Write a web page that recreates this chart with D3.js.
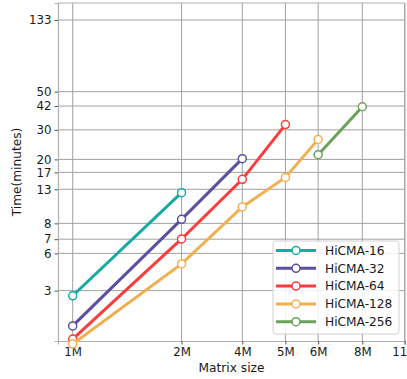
<!DOCTYPE html>
<html>
<head>
<meta charset="utf-8">
<script src="https://cdn.jsdelivr.net/npm/d3@7"></script>
<style>
  html, body { margin: 0; padding: 0; background: #fff; overflow: hidden; }
  svg { display: block; font-family: "DejaVu Sans", sans-serif; }
</style>
</head>
<body>
<svg id="chart" width="407" height="379"></svg>
<script>
// x ticks: position value on the axis and the label shown
var xTickVals = [1, 2.02, 2.99, 3.95, 4.88, 6.49, 8.52];
var xTickLabels = ['1M', '2M', '4M', '5M', '6M', '8M', '11M'];

// y ticks (minutes)
var yTickVals = [3.23, 5.39, 6.55, 8.14, 13.0, 16.4, 19.6, 29.4, 40.8, 49.7, 133];
var yTickLabels = ['3', '6', '7', '8', '13', '17', '20', '30', '42', '50', '133'];

var seriesNames = ['HiCMA-16', 'HiCMA-32', 'HiCMA-64', 'HiCMA-128', 'HiCMA-256'];
var seriesColors = ['#17a9a3', '#5a4fa0', '#fb3c3c', '#f1b04f', '#6aa25a'];
// x given as index into xTickVals
var seriesX = [
  [0, 1],
  [0, 1, 2],
  [0, 1, 2, 3],
  [0, 1, 2, 3, 4],
  [4, 5]
];
var seriesY = [
  [3.01, 12.4],
  [1.99, 8.6, 19.8],
  [1.66, 6.57, 14.9, 31.6],
  [1.55, 4.66, 10.2, 15.3, 25.8],
  [20.9, 40.4]
];

var svg = d3.select('#chart');
var margin = { left: 58, right: 2, top: 3, bottom: 38 };
var width = 407, height = 379;
var tickFont = '11.8px', labelFont = '12.2px';

var x = d3.scaleLog()
  .domain([0.9095, 8.55])
  .range([margin.left, width - margin.right]);
var y = d3.scaleLog()
  .domain([1.617, 168])
  .range([height - margin.bottom, margin.top]);

var gridColor = '#a0a0a0';

// grid
svg.append('g').selectAll('line.vgrid')
  .data(xTickVals)
  .enter().append('line')
  .attr('x1', function (d) { return x(d); })
  .attr('x2', function (d) { return x(d); })
  .attr('y1', y.range()[1])
  .attr('y2', y.range()[0])
  .attr('stroke', gridColor)
  .attr('stroke-width', 1);

svg.append('g').selectAll('line.hgrid')
  .data(yTickVals)
  .enter().append('line')
  .attr('x1', x.range()[0])
  .attr('x2', x.range()[1])
  .attr('y1', function (d) { return y(d); })
  .attr('y2', function (d) { return y(d); })
  .attr('stroke', gridColor)
  .attr('stroke-width', 1);

// axes
var xAxis = d3.axisBottom(x)
  .tickValues(xTickVals)
  .tickFormat(function (d, i) { return xTickLabels[i]; })
  .tickSize(3.5)
  .tickPadding(3);
var yAxis = d3.axisLeft(y)
  .tickValues(yTickVals)
  .tickFormat(function (d, i) { return yTickLabels[i]; })
  .tickSize(3.5)
  .tickPadding(3);

var gx = svg.append('g')
  .attr('transform', 'translate(0,' + y.range()[0] + ')')
  .call(xAxis);
var gy = svg.append('g')
  .attr('transform', 'translate(' + x.range()[0] + ',0)')
  .call(yAxis);

[gx, gy].forEach(function (g) {
  g.select('.domain').attr('stroke', '#b0b0b0').attr('stroke-width', 1.2);
  g.selectAll('.tick line').attr('stroke', '#555');
  g.selectAll('.tick text')
    .attr('fill', '#1a1a1a')
    .style('font-size', tickFont)
    .style('font-family', '"DejaVu Sans", sans-serif');
});
// top and right frame
svg.append('line')
  .attr('x1', x.range()[0]).attr('x2', x.range()[1])
  .attr('y1', y.range()[1]).attr('y2', y.range()[1])
  .attr('stroke', '#b0b0b0').attr('stroke-width', 1.2);
svg.append('line')
  .attr('x1', x.range()[1]).attr('x2', x.range()[1])
  .attr('y1', y.range()[1]).attr('y2', y.range()[0])
  .attr('stroke', '#b0b0b0').attr('stroke-width', 1.2);

// axis titles
svg.append('text')
  .attr('x', (x.range()[0] + x.range()[1]) / 2)
  .attr('y', 372)
  .attr('text-anchor', 'middle')
  .attr('fill', '#1a1a1a')
  .style('font-size', labelFont)
  .text('Matrix size');

svg.append('text')
  .attr('transform', 'translate(21,' + ((y.range()[0] + y.range()[1]) / 2) + ') rotate(-90)')
  .attr('text-anchor', 'middle')
  .attr('fill', '#1a1a1a')
  .style('font-size', labelFont)
  .text('Time(minutes)');

// series
var line = d3.line()
  .x(function (d) { return x(xTickVals[d[0]]); })
  .y(function (d) { return y(d[1]); });

seriesNames.forEach(function (name, s) {
  var pts = seriesX[s].map(function (xi, i) { return [xi, seriesY[s][i]]; });
  var g = svg.append('g');
  g.append('path')
    .datum(pts)
    .attr('d', line)
    .attr('fill', 'none')
    .attr('stroke', seriesColors[s])
    .attr('stroke-width', 3);
  g.selectAll('circle')
    .data(pts)
    .enter().append('circle')
    .attr('cx', function (d) { return x(xTickVals[d[0]]); })
    .attr('cy', function (d) { return y(d[1]); })
    .attr('r', 4)
    .attr('fill', '#fff')
    .attr('stroke', seriesColors[s])
    .attr('stroke-width', 1.5);
});

// legend
var lg = svg.append('g').attr('transform', 'translate(273,241)');
lg.append('rect')
  .attr('width', 126)
  .attr('height', 93)
  .attr('rx', 3)
  .attr('fill', '#fff')
  .attr('fill-opacity', 0.85)
  .attr('stroke', '#d0d0d0');

seriesNames.forEach(function (name, s) {
  var row = lg.append('g').attr('transform', 'translate(0,' + (9.5 + s * 17.8) + ')');
  row.append('line')
    .attr('x1', 3).attr('x2', 43)
    .attr('stroke', seriesColors[s])
    .attr('stroke-width', 3);
  row.append('circle')
    .attr('cx', 23)
    .attr('r', 4)
    .attr('fill', '#fff')
    .attr('stroke', seriesColors[s])
    .attr('stroke-width', 1.5);
  row.append('text')
    .attr('x', 52)
    .attr('dy', '0.35em')
    .attr('fill', '#1a1a1a')
    .style('font-size', labelFont)
    .text(name);
});
</script>
</body>
</html>
